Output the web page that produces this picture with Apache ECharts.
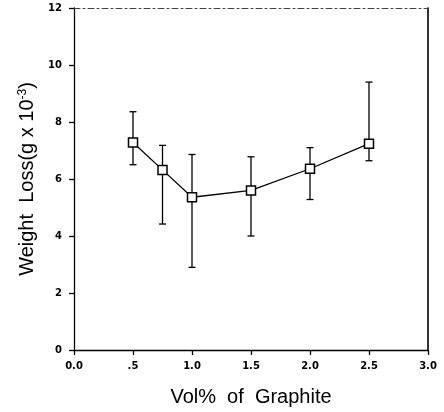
<!DOCTYPE html>
<html>
<head>
<meta charset="utf-8">
<script src="https://cdn.jsdelivr.net/npm/echarts@6/dist/echarts.min.js"></script>
<style>
html, body { margin: 0; padding: 0; background: #fff; }
#chart { width: 444px; height: 412px; }
</style>
</head>
<body>
<div id="chart"></div>
<script>
// values
const graphite = [0.5, 0.75, 1.0, 1.5, 2.0, 2.5];
const weightLoss = [7.28, 6.32, 5.36, 5.6, 6.36, 7.24];
const errHigh = [8.36, 7.18, 6.86, 6.78, 7.1, 9.4];
const errLow = [6.5, 4.42, 2.9, 4.0, 5.28, 6.64];
const xTickLabels = ['0.0', '.5', '1.0', '1.5', '2.0', '2.5', '3.0'];
const yTickLabels = ['0', '2', '4', '6', '8', '10', '12'];

const tickFont = { fontFamily: 'DejaVu Sans', fontWeight: 'bold', fontSize: 10, color: '#000' };
const titleFont = { fontFamily: 'Liberation Sans', fontSize: 20, color: '#000' };

const chart = echarts.init(document.getElementById('chart'));

const option = {
    animation: false,
    grid: { left: 74, right: 16, top: 8, bottom: 62 },
    xAxis: [
    {
        type: 'value',
        min: 0, max: 3, interval: 0.5,
        name: 'Vol%  of  Graphite',
        nameLocation: 'middle',
        nameGap: 37,
        nameTextStyle: titleFont,
        axisLine: { onZero: false, lineStyle: { color: '#000', width: 1.3 } },
        axisTick: { length: 5, lineStyle: { color: '#000', width: 1.3 } },
        axisLabel: Object.assign({
            margin: 11,
            formatter: v => xTickLabels[Math.round(v / 0.5)]
        }, tickFont),
        splitLine: { show: false }
    },
    {
        type: 'value',
        position: 'top',
        min: 0, max: 3,
        axisLine: { show: true, onZero: false, lineStyle: { color: '#444', width: 1, type: [6, 3, 2, 3] } },
        axisTick: { show: false },
        axisLabel: { show: false },
        splitLine: { show: false }
    }],
    yAxis: [
    {
        type: 'value',
        min: 0, max: 12, interval: 2,
        name: 'Weight  Loss(g x 10{sup|-3})',
        nameLocation: 'middle',
        nameGap: 33,
        nameTextStyle: Object.assign({
            rich: { sup: { fontFamily: 'Liberation Sans', fontSize: 12, color: '#000', verticalAlign: 'top' } }
        }, titleFont),
        axisLine: { show: true, onZero: false, lineStyle: { color: '#000', width: 1.3 } },
        axisTick: { show: true, length: 5, lineStyle: { color: '#000', width: 1.3 } },
        axisLabel: Object.assign({
            margin: 12,
            formatter: v => yTickLabels[Math.round(v / 2)]
        }, tickFont),
        splitLine: { show: false }
    },
    {
        type: 'value',
        position: 'right',
        min: 0, max: 12,
        axisLine: { show: true, onZero: false, lineStyle: { color: '#000', width: 1.6 } },
        axisTick: { show: false },
        axisLabel: { show: false },
        splitLine: { show: false }
    }],
    series: [
    {
        name: 'error',
        type: 'custom',
        data: graphite.map((x, i) => [x, errLow[i], errHigh[i]]),
        encode: { x: 0, y: [1, 2] },
        z: 2,
        renderItem: function (params, api) {
            const x = api.value(0);
            const top = api.coord([x, api.value(2)]);
            const bot = api.coord([x, api.value(1)]);
            const w = 3.5;
            const style = { stroke: '#000', lineWidth: 1.3 };
            return {
                type: 'group',
                children: [
                    { type: 'line', shape: { x1: top[0], y1: top[1], x2: bot[0], y2: bot[1] }, style: style },
                    { type: 'line', shape: { x1: top[0] - w, y1: top[1], x2: top[0] + w, y2: top[1] }, style: style },
                    { type: 'line', shape: { x1: bot[0] - w, y1: bot[1], x2: bot[0] + w, y2: bot[1] }, style: style }
                ]
            };
        }
    },
    {
        name: 'weight loss',
        type: 'line',
        data: graphite.map((x, i) => [x, weightLoss[i]]),
        z: 3,
        symbol: 'rect',
        symbolSize: 9,
        lineStyle: { color: '#000', width: 1.3 },
        itemStyle: { color: '#fff', borderColor: '#000', borderWidth: 1.5 }
    }]
};

chart.setOption(option);
</script>
</body>
</html>
